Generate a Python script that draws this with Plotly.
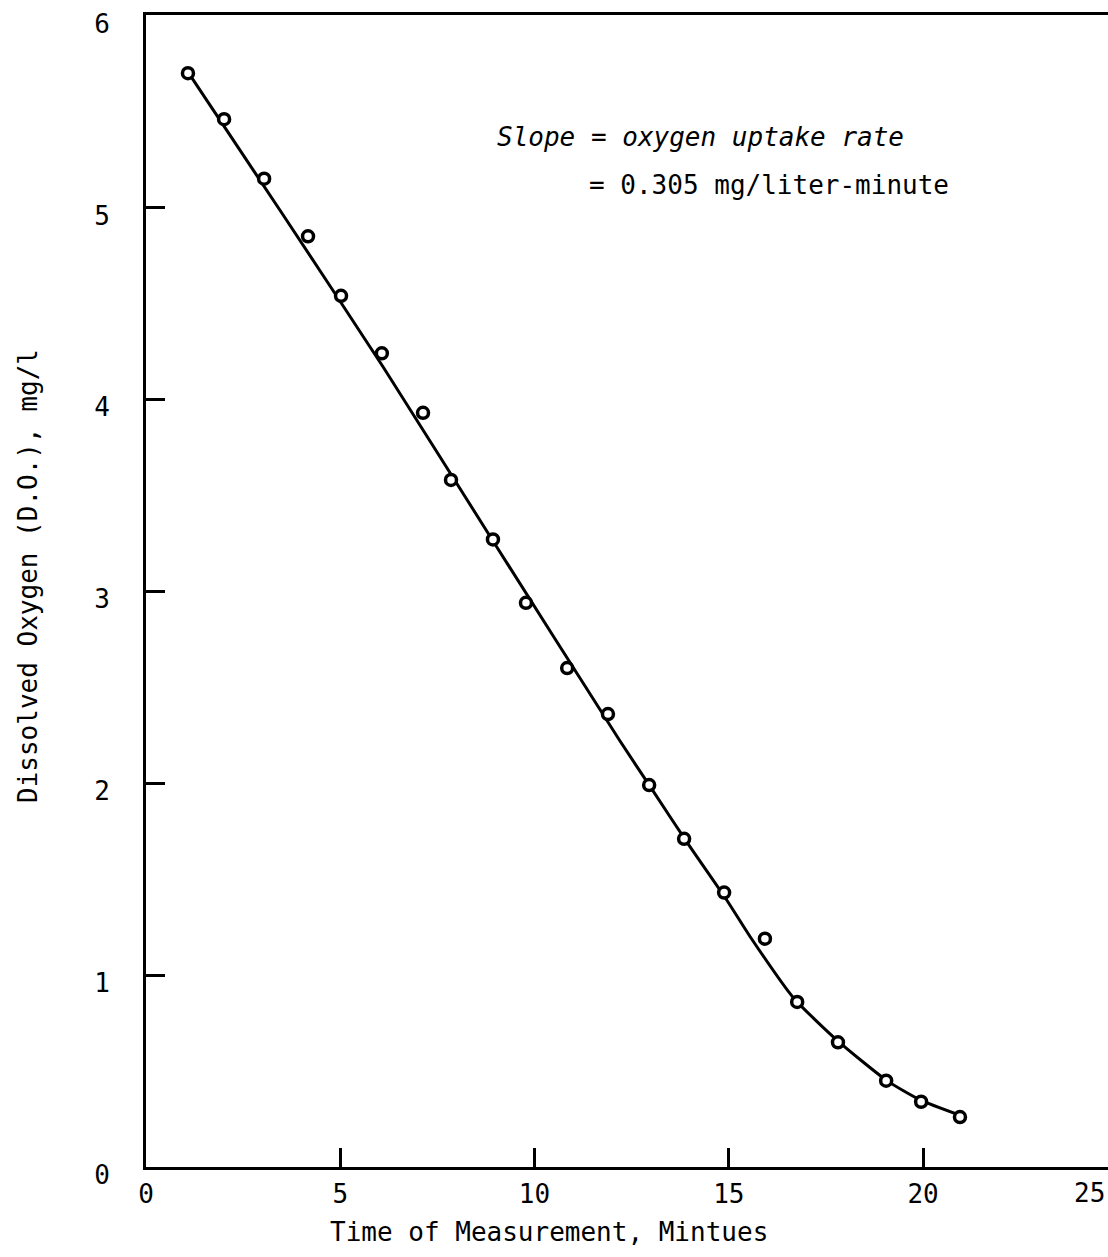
import plotly.graph_objects as go

# Measured dissolved oxygen readings (minutes, mg/l)
time_min = [1.08, 2.01, 3.04, 4.17, 5.02, 6.07, 7.13, 7.85, 8.93, 9.78, 10.84,
            11.89, 12.95, 13.85, 14.88, 15.93, 16.76, 17.81, 19.05, 19.95, 20.95]
do_mgl = [5.70, 5.46, 5.15, 4.85, 4.54, 4.24, 3.93, 3.58, 3.27, 2.94, 2.60,
          2.36, 1.99, 1.71, 1.43, 1.19, 0.86, 0.65, 0.45, 0.34, 0.26]

# Hand-fitted depletion curve
curve_t = [1.0, 3.5, 6.1, 9.0, 12.2, 13.05, 13.93, 14.95, 15.55, 16.65, 17.79, 19.07, 19.92, 20.95]
curve_do = [5.73, 4.97, 4.17, 3.24, 2.22, 1.96, 1.69, 1.39, 1.20, 0.885, 0.66, 0.45, 0.35, 0.27]

x_ticks = [0, 5, 10, 15, 20]
y_ticks = [0, 1, 2, 3, 4, 5, 6]

FONT = "DejaVu Sans Mono"
INK = "#000000"

fig = go.Figure()

fig.add_trace(go.Scatter(
    x=curve_t, y=curve_do, mode="lines",
    line=dict(color=INK, width=3, shape="spline", smoothing=0.6),
    hoverinfo="skip", showlegend=False,
))
fig.add_trace(go.Scatter(
    x=time_min, y=do_mgl, mode="markers",
    marker=dict(symbol="circle", size=11, color="white",
                line=dict(color=INK, width=3.5)),
    showlegend=False,
))

fig.update_xaxes(
    range=[0, 24.76], tickvals=x_ticks, ticktext=[str(v) for v in x_ticks],
    ticks="inside", ticklen=19, tickwidth=3, tickcolor=INK,
    showline=True, linewidth=3, linecolor=INK, mirror=True,
    showgrid=False, zeroline=False,
    tickfont=dict(family=FONT, size=26, color=INK),
    ticklabelstandoff=2,
)
fig.update_yaxes(
    range=[0, 6.003], tickvals=y_ticks, ticktext=[str(v) for v in y_ticks],
    ticks="inside", ticklen=19, tickwidth=3, tickcolor=INK,
    showline=True, linewidth=3, linecolor=INK, mirror=False,
    showgrid=False, zeroline=False,
    tickfont=dict(family=FONT, size=26, color=INK),
    ticklabelstandoff=28, ticklabelshift=8, ticklabeloverflow="allow",
)

annotations = [
    dict(text="Time of Measurement, Mintues", xref="paper", yref="paper",
         x=(549 - 146) / 962, y=0, yshift=-65, xanchor="center", yanchor="middle",
         showarrow=False, font=dict(family=FONT, size=26, color=INK)),
    dict(text="Dissolved Oxygen (D.O.), mg/l", xref="paper", yref="paper",
         x=0, xshift=-118, y=(1167 - 576) / 1152, xanchor="center", yanchor="middle",
         textangle=-90, showarrow=False, font=dict(family=FONT, size=26, color=INK)),
    dict(text="25", xref="paper", yref="paper", x=1, xshift=-1, y=0, yshift=-26,
         xanchor="right", yanchor="middle", showarrow=False,
         font=dict(family=FONT, size=26, color=INK)),
    dict(text="<i>Slope</i> = <i>oxygen uptake rate</i>", xref="paper", yref="paper",
         x=(495 - 146) / 962, y=(1167 - 137) / 1152, xanchor="left", yanchor="middle",
         showarrow=False, font=dict(family=FONT, size=26, color=INK)),
    dict(text="= 0.305 mg/liter-minute", xref="paper", yref="paper",
         x=(587 - 146) / 962, y=(1167 - 185) / 1152, xanchor="left", yanchor="middle",
         showarrow=False, font=dict(family=FONT, size=26, color=INK)),
]

fig.update_layout(
    width=1108, height=1257,
    margin=dict(l=146, r=0, t=15, b=90),
    paper_bgcolor="white", plot_bgcolor="white",
    annotations=annotations,
    showlegend=False,
)

fig.write_html("out.html")
